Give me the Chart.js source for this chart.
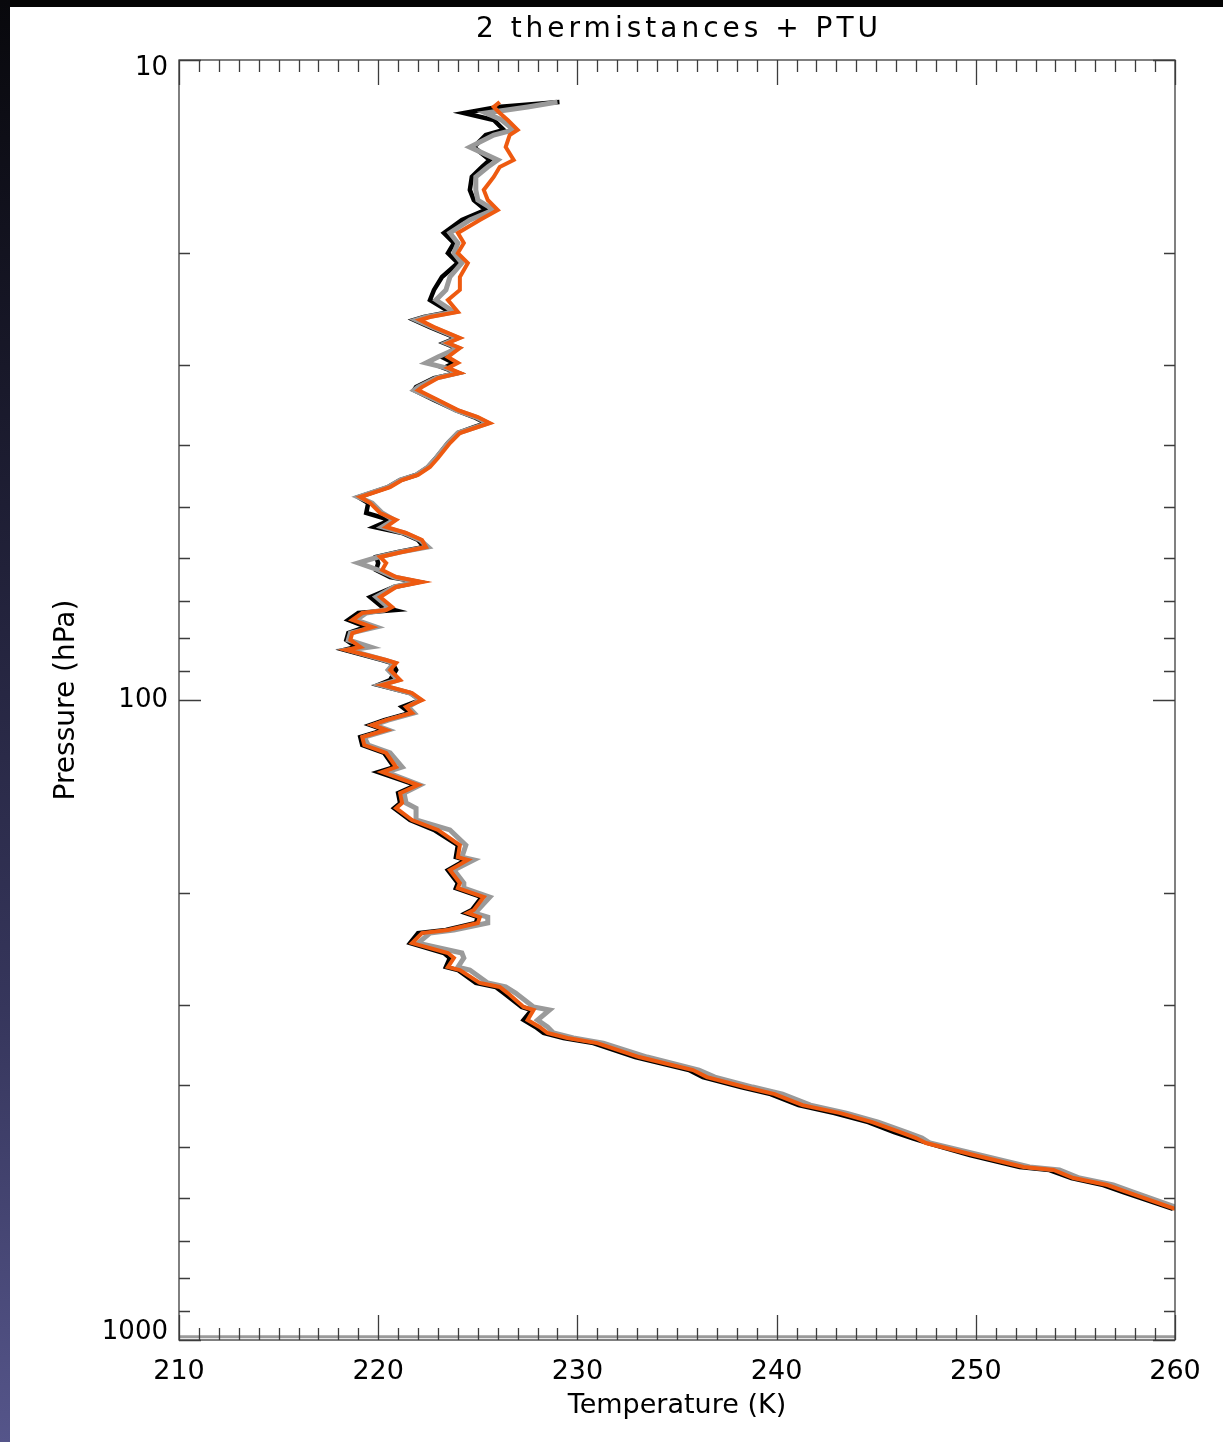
<!DOCTYPE html>
<html><head><meta charset="utf-8">
<script src="https://cdn.jsdelivr.net/npm/chart.js@4.4.0/dist/chart.umd.min.js"></script>
<style>
html,body{margin:0;padding:0;background:#fff;width:1223px;height:1442px;overflow:hidden;}
#wrap{position:absolute;left:0;top:0;width:1223px;height:1442px;background:#fff;}
canvas{position:absolute;left:0;top:0;}
#topbar{position:absolute;left:0;top:0;width:1223px;height:7px;background:#040404;}
#leftbar{position:absolute;left:0;top:0;width:10px;height:1442px;background:linear-gradient(to bottom,#08080c 0%,#1e1e34 35%,#36365c 70%,#55558a 100%);}
</style></head><body>
<div id="wrap"><canvas id="c" width="1223" height="1442"></canvas></div>
<div id="topbar"></div><div id="leftbar"></div>
<script>
// Pressure levels (hPa) of the sounding
const pressure = [
11.63,11.84,12.10,12.41,12.86,13.10,13.68,14.33,14.70,15.23,
15.96,16.55,17.15,17.78,18.63,19.32,20.03,20.76,21.83,22.87,
23.71,24.76,25.21,25.48,26.14,27.19,27.68,28.18,29.11,29.74,
30.28,30.84,31.40,32.44,32.80,33.98,35.24,36.13,36.92,37.45,
38.27,39.68,41.88,43.25,44.51,45.32,46.48,48.18,49.23,51.03,
52.33,53.66,54.83,56.23,57.67,58.72,59.78,61.08,62.64,64.24,
65.41,66.59,69.04,71.57,72.35,73.13,74.99,76.90,78.58,80.58,
82.63,83.52,86.60,87.54,89.76,93.06,94.75,97.52,100.0,102.5,
104.8,107.5,109.4,111.4,114.3,117.6,121.0,127.3,129.6,135.8,
139.8,144.9,147.6,154.0,159.6,168.6,176.0,177.8,184.4,193.2,
196.7,203.2,212.9,215.2,218.4,223.1,228.8,231.3,239.8,248.5,
253.0,261.4,264.2,276.8,280.8,287.0,301.8,305.1,316.2,324.3,
331.4,337.4,343.6,361.3,378.6,388.3,402.5,412.8,429.5,442.0,
456.6,473.2,483.5,492.3,513.9,536.6,542.5,558.3,572.6,587.3,
624.1];

// Thermistance 1 (black)
const tempBlack = [
229.1,226.0,224.3,225.8,226.3,225.4,224.8,225.6,225.2,224.7,
224.6,224.8,225.4,224.2,223.3,223.8,223.5,224.0,223.2,222.8,
222.6,223.6,222.3,221.8,222.6,223.9,223.3,223.9,223.2,223.8,
223.3,224.0,222.8,221.9,221.8,222.8,223.9,224.8,225.4,224.8,
224.0,223.5,222.9,222.5,221.9,221.1,220.5,219.0,219.5,219.4,
220.6,219.8,221.2,222.0,222.3,221.0,219.9,220.0,219.9,220.6,
222.0,220.8,219.6,220.2,220.8,219.0,218.5,219.4,218.5,218.4,
218.9,218.3,220.2,220.7,220.9,220.6,220.0,221.6,222.1,221.2,
221.6,220.3,219.6,220.3,219.1,219.2,220.3,220.8,220.0,221.9,
221.0,221.1,220.8,221.6,222.8,224.0,223.9,224.4,223.5,224.0,
223.9,225.2,224.7,224.4,225.0,224.9,223.4,222.0,221.6,223.3,
223.6,223.4,224.0,224.9,225.9,226.3,227.2,227.7,227.3,227.9,
228.3,229.3,230.8,232.9,235.6,236.3,238.2,239.7,241.1,242.9,
244.6,245.9,246.8,247.6,249.7,252.2,253.7,254.8,256.4,257.4,
259.9];

// Thermistance 2 (grey)
const tempGray = [
229.0,227.5,225.4,226.2,226.8,225.8,224.6,226.0,225.5,224.9,
224.9,225.0,225.8,224.6,223.6,224.0,223.8,224.2,223.6,223.4,
222.9,223.8,222.4,221.9,222.7,224.0,223.4,224.0,223.0,222.4,
223.4,224.0,222.9,222.0,221.8,222.9,223.9,224.9,225.5,224.9,
224.0,223.5,222.9,222.5,221.9,221.1,220.5,219.0,219.7,220.2,
220.8,220.2,221.3,222.1,222.5,221.1,220.0,219.0,220.0,220.8,
222.0,220.8,219.9,220.5,220.3,219.4,218.9,219.9,218.6,218.5,
219.6,218.5,220.3,220.8,220.5,221.0,220.1,221.6,222.1,221.5,
221.8,220.5,219.8,220.5,219.3,219.5,220.6,221.2,220.4,222.1,
221.3,221.4,221.9,221.9,223.6,224.4,224.2,224.8,223.8,224.3,
224.3,225.6,225.0,224.8,225.5,225.5,223.8,222.6,222.0,224.2,
224.3,224.0,224.6,225.5,226.4,226.9,227.8,228.6,228.0,228.5,
228.8,229.8,231.3,233.5,236.1,236.9,238.8,240.3,241.7,243.5,
245.1,246.5,247.3,247.7,250.2,252.7,254.2,255.2,256.9,257.9,
260.3];

// PTU (orange)
const tempOrange = [
226.1,225.8,226.1,226.5,227.0,226.6,226.4,226.8,226.1,225.8,
225.3,225.5,226.0,225.1,224.0,224.3,224.0,224.5,224.1,224.1,
223.5,224.0,222.6,222.1,222.8,224.1,223.5,224.1,223.5,224.0,
223.5,224.1,223.0,222.2,222.0,223.0,224.0,225.0,225.6,225.0,
224.1,223.6,223.0,222.6,222.0,221.2,220.6,219.1,219.6,220.1,
220.9,220.4,221.4,222.2,222.4,221.2,220.1,220.4,220.2,220.9,
222.2,220.9,220.1,220.7,220.4,219.2,218.7,219.7,218.7,218.6,
219.1,218.4,220.4,220.9,220.6,221.1,220.2,221.7,222.2,221.4,
221.7,220.4,219.7,220.4,219.2,219.3,220.4,220.9,220.2,222.0,
221.1,221.2,220.9,221.7,223.0,224.1,224.0,224.5,223.6,224.1,
224.0,225.3,224.8,224.5,225.1,225.0,223.5,222.2,221.7,223.5,
223.8,223.5,224.1,225.1,226.1,226.5,227.3,227.8,227.5,228.1,
228.5,229.5,231.0,233.1,235.8,236.5,238.4,239.9,241.3,243.2,
244.8,246.2,247.0,247.5,249.9,252.4,253.9,254.9,256.6,257.6,
260.0];

// Grey reference line near the ground
const floorPressure = [988, 988];
const floorTemps = [210, 260];

const xTickLabels = [210, 220, 230, 240, 250, 260];
const yTickLabels = [10, 100, 1000];
const yMinorTicks = [20,30,40,50,60,70,80,90,200,300,400,500,600,700,800,900];
const titleText = '2 thermistances + PTU';

const FONT = '"DejaVu Sans", "Liberation Sans", sans-serif';
const pts = (t, p) => t.map((v, i) => ({x: v, y: p[i]}));

const framePlugin = {
  id: 'frame',
  afterDatasetsDraw(chart) {
    const {ctx, chartArea: a, scales: {x, y}} = chart;
    ctx.save();
    ctx.strokeStyle = '#3c3c3c';
    ctx.lineWidth = 1.3;
    ctx.strokeRect(a.left, a.top, a.right - a.left, a.bottom - a.top);
    ctx.beginPath();
    for (let t = x.min; t <= x.max; t++) {
      const px = Math.round(x.getPixelForValue(t)) + 0.5;
      const len = xTickLabels.includes(t) ? 25 : 12;
      ctx.moveTo(px, a.bottom); ctx.lineTo(px, a.bottom - len);
      ctx.moveTo(px, a.top); ctx.lineTo(px, a.top + len);
    }
    const yt = yTickLabels.map(v => [v, 22]).concat(yMinorTicks.map(v => [v, 11]));
    for (const [v, len] of yt) {
      const py = Math.round(y.getPixelForValue(v)) + 0.5;
      ctx.moveTo(a.left, py); ctx.lineTo(a.left + len, py);
      ctx.moveTo(a.right, py); ctx.lineTo(a.right - len, py);
    }
    ctx.stroke();
    // y tick labels (IDL style: end labels nudged inside the axis)
    ctx.fillStyle = '#000';
    ctx.font = '26px ' + FONT;
    ctx.textAlign = 'right';
    ctx.textBaseline = 'middle';
    yTickLabels.forEach((v, i) => {
      const shift = i === 0 ? 8 : (i === yTickLabels.length - 1 ? -8 : 0);
      ctx.fillText(String(v), a.left - 11, y.getPixelForValue(v) + shift);
    });
    // title
    const t = chart.options.plugins.title.text;
    ctx.font = '28px ' + FONT;
    ctx.textAlign = 'center';
    ctx.textBaseline = 'alphabetic';
    if ('letterSpacing' in ctx) ctx.letterSpacing = '4px';
    ctx.fillText(t, (a.left + a.right) / 2 + 2, 37);
    ctx.restore();
  }
};

new Chart(document.getElementById('c'), {
  type: 'line',
  data: {
    datasets: [
      {label: 'PTU', data: pts(tempOrange, pressure), borderColor: '#ee5a10', borderWidth: 4, pointRadius: 0, tension: 0, fill: false},
      {label: 'Thermistance 2', data: pts(tempGray, pressure), borderColor: '#9a9a9a', borderWidth: 5, pointRadius: 0, tension: 0, fill: false},
      {label: 'Thermistance 1', data: pts(tempBlack, pressure), borderColor: '#000000', borderWidth: 4.5, pointRadius: 0, tension: 0, fill: false},
      {label: 'floor', data: pts(floorTemps, floorPressure), borderColor: '#9a9a9a', borderWidth: 3, pointRadius: 0, fill: false}
    ]
  },
  options: {
    responsive: false,
    devicePixelRatio: 1,
    animation: false,
    layout: {padding: {top: 60, right: 48, bottom: 0, left: 0}},
    plugins: {
      legend: {display: false},
      tooltip: {enabled: false},
      title: {display: false, text: titleText}
    },
    scales: {
      x: {
        type: 'linear', position: 'bottom', min: 210, max: 260,
        afterBuildTicks: s => { s.ticks = xTickLabels.map(v => ({value: v})); },
        ticks: {font: {family: FONT, size: 27}, color: '#000', padding: 16, maxRotation: 0, autoSkip: false},
        grid: {display: false, drawTicks: false},
        border: {display: false},
        title: {display: true, text: 'Temperature (K)', color: '#000', font: {family: FONT, size: 27}, padding: {top: 0, bottom: 20}},
        afterFit: s => { s.height = 102; }
      },
      y: {
        type: 'logarithmic', position: 'left', min: 10, max: 1000, reverse: true,
        ticks: {display: false},
        grid: {display: false, drawTicks: false},
        border: {display: false},
        title: {display: true, text: 'Pressure (hPa)', color: '#000', font: {family: FONT, size: 28}, padding: {top: 50, bottom: 0}},
        afterFit: s => { s.width = 179; }
      }
    }
  },
  plugins: [framePlugin]
});
</script>
</body></html>
